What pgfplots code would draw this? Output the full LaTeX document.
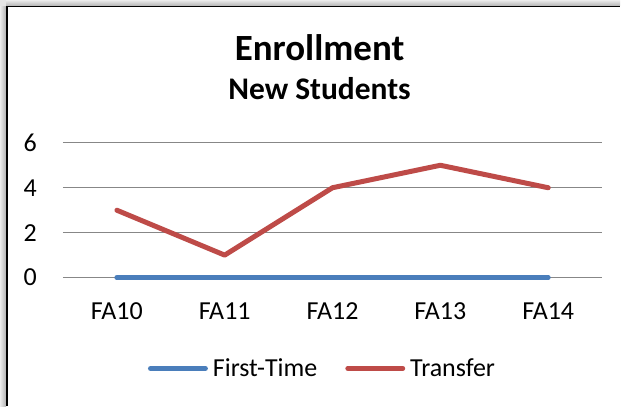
\documentclass[border=0pt]{standalone}
\usepackage{pgfplots}
\pgfplotsset{compat=1.18}
\usepackage{fontspec}
\setmainfont{Carlito}
\definecolor{ftblue}{HTML}{4A7EBB}
\definecolor{trred}{HTML}{BE4B48}
\definecolor{gridgray}{HTML}{878787}
\begin{document}
\begin{tikzpicture}
\fill[white] (0pt,0pt) rectangle (621pt,407pt);
\shade[left color=gray!15, right color=gray!60] (0pt,0pt) rectangle (6pt,401pt);
\shade[top color=gray!15, bottom color=gray!60] (6pt,401pt) rectangle (621pt,407pt);
\fill[gray!20] (0pt,401pt) rectangle (6pt,407pt);
\draw[black, line width=1.8pt] (7pt,0pt) -- (7pt,400.5pt) -- (621pt,400.5pt);
\node[font=\fontsize{37}{41}\selectfont\bfseries, anchor=base] at (320pt,346pt) {Enrollment};
\node[font=\fontsize{31.5}{35}\selectfont\bfseries, anchor=base] at (320pt,307pt) {New Students};
\begin{axis}[
  at={(63pt,129pt)}, anchor=south west,
  scale only axis, width=540pt, height=135pt,
  xmin=-0.5, xmax=4.5, ymin=0, ymax=6,
  ytick={0,2,4,6},
  xtick={0,1,2,3,4},
  xticklabels={FA10,FA11,FA12,FA13,FA14},
  axis line style={draw=none},
  major tick length=0pt,
  ymajorgrids,
  grid style={gridgray, line width=1pt},
  tick label style={font=\fontsize{26}{30}\selectfont},
  /pgf/number format/assume math mode=true,
  yticklabel style={anchor=east, inner sep=0pt, xshift=-26pt},
  xticklabel style={anchor=north, inner sep=0pt, yshift=-25pt},
  clip=false,
  legend columns=2,
  legend style={draw=none, fill=none, font=\fontsize{26}{30}\selectfont,
    at={(0.4796,-0.674)}, anchor=center,
    /tikz/every even column/.append style={column sep=28pt},
    inner sep=0pt, nodes={inner sep=0pt}},
  legend image code/.code={\draw[#1, line cap=round] (0pt,0pt) -- (55pt,0pt);},
  legend cell align=left,
]
\addplot[ftblue, line width=5pt, line cap=round] coordinates {(0,0) (1,0) (2,0) (3,0) (4,0)};
\addlegendentry{\hspace{5pt}First-Time}
\addplot[trred, line width=5pt, line cap=round, line join=round] coordinates {(0,3) (1,1) (2,4) (3,5) (4,4)};
\addlegendentry{\hspace{5pt}Transfer}
\end{axis}
\end{tikzpicture}
\end{document}
